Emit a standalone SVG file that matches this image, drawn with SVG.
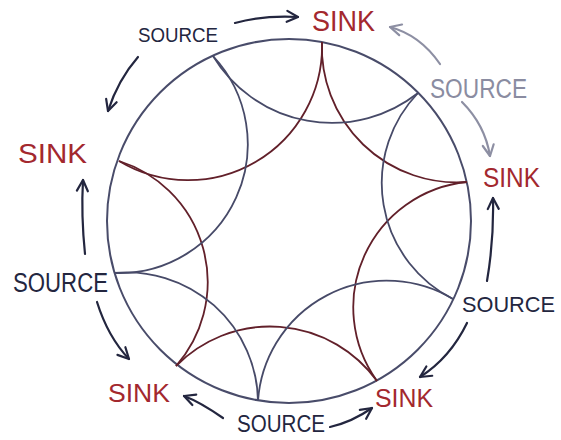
<svg xmlns="http://www.w3.org/2000/svg" width="561" height="440" viewBox="0 0 561 440">
<style>
.bg{fill:#ffffff}
.rim{fill:none;stroke:#494c6a;stroke-width:2}
.sink-arc{fill:none;stroke:#62202a;stroke-width:1.8}
.src-arc{fill:none;stroke:#474a68;stroke-width:1.8}
.arrow{fill:none;stroke:#23263f;stroke-width:2.2;stroke-linecap:round}
.arrow.light{stroke:#8d8fa3}
.lbl{font-family:"Liberation Sans","DejaVu Sans",sans-serif;font-weight:normal}
.sink{fill:#a3282e}
.src{fill:#23263f}
.src.light{fill:#8a8ca1}
</style>
<defs>
<marker id="head" viewBox="-13 -8 16 16" refX="0" refY="0" markerWidth="16" markerHeight="16" markerUnits="userSpaceOnUse" orient="auto">
<path d="M-11,-5.5 L0,0 L-11,5.5" fill="none" stroke="#23263f" stroke-width="2.2" stroke-linecap="round" stroke-linejoin="round"/>
</marker>
<marker id="head-light" viewBox="-13 -8 16 16" refX="0" refY="0" markerWidth="16" markerHeight="16" markerUnits="userSpaceOnUse" orient="auto">
<path d="M-11,-5.5 L0,0 L-11,5.5" fill="none" stroke="#8d8fa3" stroke-width="2.2" stroke-linecap="round" stroke-linejoin="round"/>
</marker>
</defs>
<rect class="bg" x="0" y="0" width="561" height="440"/>
<g id="disc">
<circle class="rim" cx="289" cy="221" r="182"/>
<g id="sink-pentagon">
<path class="sink-arc" d="M119,161 A134,134 0 0 0 322,42"/>
<path class="sink-arc" d="M322,42 A135,135 0 0 0 467,182"/>
<path class="sink-arc" d="M467,182 A126,126 0 0 0 377,381"/>
<path class="sink-arc" d="M377,381 A132,132 0 0 0 176,366"/>
<path class="sink-arc" d="M176,366 A127,127 0 0 0 119,161"/>
</g>
<g id="source-pentagon">
<path class="src-arc" d="M213,56 A139,139 0 0 0 418,93"/>
<path class="src-arc" d="M418,93 A130,130 0 0 0 453,299"/>
<path class="src-arc" d="M453,299 A129,129 0 0 0 258,401"/>
<path class="src-arc" d="M258,401 A131,131 0 0 0 114,273"/>
<path class="src-arc" d="M114,273 A129,129 0 0 0 213,56"/>
</g>
</g>
<g id="connectors">
<path class="arrow" d="M235,23 Q265,15 298,17" marker-end="url(#head)"/>
<path class="arrow" d="M138,57 Q118,80 108,111" marker-end="url(#head)"/>
<path class="arrow" d="M85,254 Q81,215 83,180" marker-end="url(#head)"/>
<path class="arrow" d="M97,302 Q108,337 129,359" marker-end="url(#head)"/>
<path class="arrow" d="M223,418 Q200,402 184,396" marker-end="url(#head)"/>
<path class="arrow" d="M330,427 Q352,422 372,408" marker-end="url(#head)"/>
<path class="arrow" d="M467,323 Q450,358 420,377" marker-end="url(#head)"/>
<path class="arrow" d="M487,281 Q494,240 493,198" marker-end="url(#head)"/>
<path class="arrow light" d="M462,102 Q485,125 490,156" marker-end="url(#head-light)"/>
<path class="arrow light" d="M440,64 Q420,35 390,27" marker-end="url(#head-light)"/>
</g>
<g id="source-top-left"><text class="lbl src" x="138" y="42" font-size="21" textLength="80" lengthAdjust="spacingAndGlyphs">SOURCE</text></g>
<g id="sink-top"><text class="lbl sink" x="312" y="31" font-size="30" textLength="63" lengthAdjust="spacingAndGlyphs">SINK</text></g>
<g id="source-right-top"><text class="lbl src light" x="430" y="98" font-size="27" textLength="97" lengthAdjust="spacingAndGlyphs">SOURCE</text></g>
<g id="sink-right"><text class="lbl sink" x="483" y="187" font-size="27" textLength="57" lengthAdjust="spacingAndGlyphs">SINK</text></g>
<g id="source-right-bottom"><text class="lbl src" x="462" y="312" font-size="22" textLength="93" lengthAdjust="spacingAndGlyphs">SOURCE</text></g>
<g id="sink-bottom-right"><text class="lbl sink" x="375" y="407" font-size="26" textLength="58" lengthAdjust="spacingAndGlyphs">SINK</text></g>
<g id="source-bottom"><text class="lbl src" x="237" y="432" font-size="24" textLength="88" lengthAdjust="spacingAndGlyphs">SOURCE</text></g>
<g id="sink-bottom-left"><text class="lbl sink" x="108" y="402" font-size="26" textLength="62" lengthAdjust="spacingAndGlyphs">SINK</text></g>
<g id="source-left"><text class="lbl src" x="13" y="292" font-size="27" textLength="95" lengthAdjust="spacingAndGlyphs">SOURCE</text></g>
<g id="sink-left"><text class="lbl sink" x="18" y="163" font-size="28" textLength="69" lengthAdjust="spacingAndGlyphs">SINK</text></g>
</svg>
